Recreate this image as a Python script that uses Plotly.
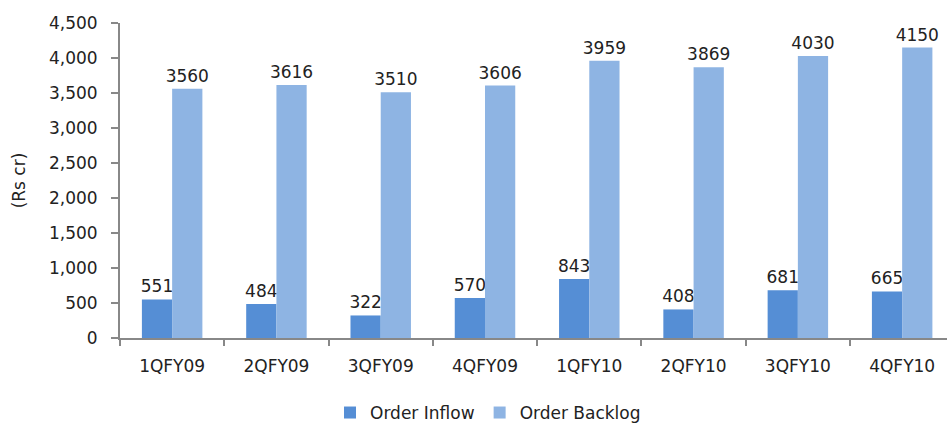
import plotly.graph_objects as go

categories = ["1QFY09", "2QFY09", "3QFY09", "4QFY09", "1QFY10", "2QFY10", "3QFY10", "4QFY10"]
order_inflow = [551, 484, 322, 570, 843, 408, 681, 665]
order_backlog = [3560, 3616, 3510, 3606, 3959, 3869, 4030, 4150]

font_family = "DejaVu Sans"
fs = 17

fig = go.Figure()
fig.add_trace(go.Bar(
    name="Order Inflow", x=categories, y=order_inflow,
    marker=dict(color="#558ED5", line=dict(width=0)),
    text=[str(v) for v in order_inflow], textposition="outside",
    textfont=dict(family=font_family, size=fs, color="#222222"),
    cliponaxis=False, constraintext="none",
))
fig.add_trace(go.Bar(
    name="Order Backlog", x=categories, y=order_backlog,
    marker=dict(color="#8EB4E3", line=dict(width=0)),
    text=[str(v) for v in order_backlog], textposition="outside",
    textfont=dict(family=font_family, size=fs, color="#222222"),
    cliponaxis=False, constraintext="none",
))

fig.update_layout(
    width=947, height=423,
    margin=dict(l=120, r=0, t=23, b=85, autoexpand=False),
    barmode="group", bargap=0.42, bargroupgap=0,
    plot_bgcolor="white", paper_bgcolor="white",
    font=dict(family=font_family, size=fs, color="#222222"),
    showlegend=True,
    legend=dict(orientation="h", x=0.445, xanchor="center", y=-0.238, yanchor="middle",
                font=dict(size=fs), itemwidth=30),
    xaxis=dict(
        range=[-0.5, 7.43],
        showline=True, linecolor="#888888", linewidth=2,
        ticks="outside", tickson="boundaries", ticklen=6, tickcolor="#888888", tickwidth=2,
        showgrid=False, tickfont=dict(size=fs), ticklabelstandoff=12,
    ),
    yaxis=dict(
        range=[0, 4500], dtick=500, tickformat=",",
        showline=True, linecolor="#888888", linewidth=2,
        ticks="outside", ticklen=7, tickcolor="#888888", tickwidth=2,
        showgrid=False, zeroline=False, tickfont=dict(size=fs), ticklabelstandoff=10,
        title=dict(text="(Rs cr)", font=dict(size=fs), standoff=19),
    ),
)

fig.write_html("out.html")
